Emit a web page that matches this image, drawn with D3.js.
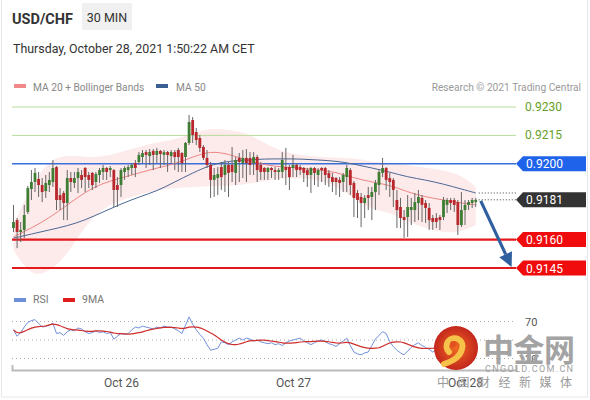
<!DOCTYPE html>
<html>
<head>
<meta charset="utf-8">
<script src="https://cdn.jsdelivr.net/npm/d3@7"></script>
<style>
body { margin: 0; background: #fff; }
svg { font-family: Roboto, "Liberation Sans", Arial, sans-serif; }
</style>
</head>
<body>
<svg id="chart" width="590" height="400"></svg>
<script>
// USD/CHF 30 min candles, first one opens Oct 25 09:00
var firstCandle = Date.UTC(2021, 9, 25, 9, 0);
var candleMinutes = 30;

var opens = [0.91661,0.91703,0.91640,0.91651,0.91746,0.91867,0.91904,0.91920,0.91888,0.91856,
0.91888,0.91904,0.91983,0.91835,0.91846,0.91793,0.91925,0.91899,0.91925,0.91941,
0.91978,0.91941,0.91952,0.91904,0.91941,0.91957,0.91978,0.91967,0.91967,0.91888,
0.91888,0.91957,0.91967,0.91978,0.92004,0.92010,0.92036,0.92062,0.92041,0.92068,
0.92047,0.92068,0.92047,0.92062,0.92041,0.92062,0.92073,0.92057,0.92036,0.92110,
0.92231,0.92168,0.92136,0.92089,0.92031,0.91994,0.91915,0.91925,0.91983,0.91941,
0.91994,0.91994,0.91952,0.92031,0.92004,0.92031,0.92031,0.92004,0.92036,0.91994,
0.91978,0.91957,0.91978,0.91967,0.91957,0.91957,0.91983,0.91983,0.91978,0.91994,
0.91983,0.91978,0.91967,0.91941,0.91978,0.91941,0.91978,0.91978,0.91952,0.91930,
0.91925,0.91915,0.91904,0.91930,0.91967,0.91899,0.91846,0.91825,0.91793,0.91835,
0.91825,0.91851,0.91888,0.91952,0.91978,0.91925,0.91915,0.91809,0.91772,0.91719,
0.91719,0.91756,0.91756,0.91793,0.91820,0.91793,0.91767,0.91714,0.91714,0.91719,
0.91719,0.91783,0.91809,0.91809,0.91798,0.91677,0.91756,0.91783,0.91793,0.91798];

var highs = [0.91783,0.91714,0.91693,0.91783,0.91883,0.91967,0.91978,0.91957,0.91925,0.91941,
0.91957,0.92020,0.91988,0.91872,0.91856,0.91967,0.91957,0.91957,0.91978,0.91967,
0.91983,0.91957,0.91957,0.91957,0.91978,0.91994,0.91983,0.91988,0.91973,0.91930,
0.91978,0.91988,0.91994,0.92004,0.92020,0.92062,0.92073,0.92073,0.92078,0.92078,
0.92084,0.92073,0.92073,0.92068,0.92073,0.92073,0.92084,0.92062,0.92115,0.92258,
0.92247,0.92189,0.92152,0.92099,0.92073,0.92010,0.91978,0.91983,0.92010,0.92020,
0.92010,0.92089,0.92036,0.92057,0.92073,0.92078,0.92062,0.92062,0.92047,0.92010,
0.91983,0.91983,0.91983,0.91983,0.91978,0.92062,0.92084,0.91994,0.92047,0.92004,
0.91994,0.91983,0.91978,0.91983,0.91983,0.91978,0.91983,0.91983,0.91967,0.91952,
0.91930,0.91930,0.91952,0.91994,0.91978,0.91909,0.91862,0.91846,0.91835,0.91878,
0.91878,0.91915,0.91967,0.92031,0.91983,0.91952,0.91925,0.91862,0.91820,0.91756,
0.91835,0.91820,0.91846,0.91862,0.91835,0.91809,0.91793,0.91730,0.91740,0.91730,
0.91825,0.91820,0.91820,0.91820,0.91809,0.91851,0.91809,0.91809,0.91820,0.91820];

var lows = [0.91640,0.91555,0.91587,0.91608,0.91735,0.91809,0.91851,0.91825,0.91798,0.91820,
0.91851,0.91878,0.91756,0.91756,0.91703,0.91703,0.91851,0.91872,0.91846,0.91872,
0.91851,0.91872,0.91862,0.91872,0.91899,0.91915,0.91915,0.91930,0.91772,0.91772,
0.91825,0.91915,0.91930,0.91941,0.91930,0.91994,0.92004,0.91978,0.91994,0.91967,
0.92004,0.91978,0.91994,0.91957,0.92004,0.91967,0.91957,0.91957,0.91957,0.92099,
0.92110,0.92099,0.92062,0.92020,0.91978,0.91820,0.91825,0.91835,0.91862,0.91851,
0.91825,0.91904,0.91888,0.91904,0.91925,0.91904,0.91941,0.91941,0.91904,0.91915,
0.91915,0.91915,0.91925,0.91915,0.91915,0.91925,0.91888,0.91862,0.91930,0.91930,
0.91941,0.91904,0.91878,0.91846,0.91888,0.91878,0.91904,0.91888,0.91878,0.91851,
0.91835,0.91825,0.91851,0.91851,0.91835,0.91719,0.91714,0.91666,0.91714,0.91756,
0.91703,0.91756,0.91835,0.91930,0.91862,0.91825,0.91772,0.91661,0.91661,0.91608,
0.91614,0.91677,0.91693,0.91703,0.91693,0.91688,0.91651,0.91651,0.91661,0.91651,
0.91703,0.91740,0.91756,0.91746,0.91624,0.91666,0.91677,0.91756,0.91767,0.91772];

var closes = [0.91693,0.91640,0.91651,0.91730,0.91872,0.91904,0.91952,0.91888,0.91851,0.91899,
0.91915,0.91978,0.91809,0.91809,0.91793,0.91925,0.91904,0.91925,0.91957,0.91915,
0.91930,0.91915,0.91888,0.91946,0.91967,0.91978,0.91957,0.91978,0.91862,0.91862,
0.91967,0.91978,0.91983,0.91994,0.91978,0.92047,0.92057,0.92047,0.92062,0.92047,
0.92068,0.92052,0.92062,0.92047,0.92062,0.92036,0.92036,0.92004,0.92110,0.92221,
0.92152,0.92126,0.92084,0.92031,0.91994,0.91915,0.91941,0.91946,0.91930,0.91994,
0.91952,0.91957,0.92020,0.92010,0.92031,0.92004,0.91994,0.92036,0.91967,0.91957,
0.91957,0.91978,0.91967,0.91957,0.91967,0.92020,0.91967,0.91930,0.91994,0.91967,
0.91967,0.91952,0.91941,0.91978,0.91952,0.91967,0.91967,0.91941,0.91925,0.91904,
0.91904,0.91899,0.91941,0.91978,0.91888,0.91820,0.91809,0.91793,0.91820,0.91820,
0.91851,0.91899,0.91957,0.91978,0.91915,0.91904,0.91862,0.91756,0.91714,0.91703,
0.91772,0.91772,0.91798,0.91825,0.91783,0.91767,0.91703,0.91693,0.91693,0.91703,
0.91809,0.91809,0.91793,0.91783,0.91677,0.91756,0.91783,0.91798,0.91809,0.91810];

// indicators read at every 5th candle
var indicatorIdx = [0,5,10,15,20,25,30,35,40,45,50,55,60,65,70,75,80,85,90,95,100,105,110,115,120,125,129];
var ma20 = [0.91614,0.91661,0.91714,0.91783,0.91851,0.91899,0.91925,0.91952,0.91978,0.91999,0.92036,0.92068,0.92052,0.92020,
0.91994,0.91983,0.91978,0.91967,0.91957,0.91925,0.91904,0.91888,0.91851,0.91825,0.91809,0.91793,0.91783];
var bandUpper = [0.91677,0.91888,0.92020,0.92047,0.92036,0.92036,0.92062,0.92089,0.92115,0.92126,0.92163,0.92189,0.92179,0.92163,
0.92110,0.92062,0.92047,0.92036,0.92031,0.92031,0.92010,0.92004,0.91994,0.91978,0.91967,0.91941,0.91878];
var bandLower = [0.91545,0.91402,0.91429,0.91519,0.91677,0.91767,0.91809,0.91835,0.91862,0.91872,0.91878,0.91883,0.91883,0.91893,
0.91909,0.91925,0.91925,0.91915,0.91883,0.91820,0.91756,0.91746,0.91693,0.91661,0.91635,0.91640,0.91677];
var ma50 = [0.91608,0.91629,0.91651,0.91672,0.91703,0.91746,0.91788,0.91825,0.91856,0.91904,0.91952,0.91994,0.92015,0.92020,
0.92026,0.92026,0.92026,0.92020,0.92015,0.91999,0.91978,0.91957,0.91930,0.91915,0.91893,0.91867,0.91846];

var rsi = [61,54,58,64,69,71,72,68,64,65,66,68,57,58,55,59,61,60,63,62,
59,57,58,60,58,59,57,58,51,54,57,56,57,61,64,63,65,64,63,62,
64,63,65,64,64,62,60,57,66,75,67,61,56,52,45,39,40,41,48,47,
45,48,50,52,50,52,51,49,50,48,47,46,47,45,46,44,47,49,50,51,
52,49,47,45,47,49,50,48,46,45,43,46,49,52,44,37,35,34,36,37,
44,51,55,59,57,48,43,39,36,34,38,42,45,47,44,42,40,37,39,42,
40,44,41,38,43,45,42,46,44,45];
var rsiLevels = [70, 50, 30];

var targets = [0.9230, 0.9215];
var pivot = 0.9200;
var supports = [0.9160, 0.9145];
var arrowTarget = 0.9145;
var arrowTime = Date.UTC(2021, 9, 28, 6, 30);
var dayTicks = [Date.UTC(2021, 9, 26), Date.UTC(2021, 9, 27), Date.UTC(2021, 9, 28)];

var svg = d3.select("#chart");
var right = 516;

var times = closes.map(function(d, i) { return firstCandle + i * candleMinutes * 60000; });
var x0 = d3.scaleUtc().domain([dayTicks[0], dayTicks[1]]).range([121, 293]);
var x = d3.scaleUtc().domain([x0.invert(12), x0.invert(right)]).range([12, right]);
var y = d3.scaleLinear().domain([0.9145, 0.9230]).range([268, 107]);
var yR = d3.scaleLinear().domain([30, 70]).range([358.5, 321.5]);

// frame
svg.append("rect").attr("x", 1.5).attr("y", -2).attr("width", 586).attr("height", 399)
   .attr("fill", "none").attr("stroke", "#e6e6e6");

// header
svg.append("text").attr("x", 12).attr("y", 24).attr("font-size", "14.5px").attr("font-weight", "bold")
   .attr("fill", "#333").text("USD/CHF");
svg.append("rect").attr("x", 82).attr("y", 3).attr("width", 50).attr("height", 27).attr("fill", "#f0f0f0");
svg.append("text").attr("x", 107).attr("y", 22).attr("text-anchor", "middle").attr("font-size", "12.5px")
   .attr("fill", "#333").text("30 MIN");
svg.append("text").attr("x", 13).attr("y", 53).attr("font-size", "12.4px").attr("fill", "#333")
   .text("Thursday, October 28, 2021 1:50:22 AM CET");

// legend
svg.append("rect").attr("x", 14).attr("y", 84).attr("width", 12).attr("height", 4).attr("fill", "#f08a8a");
svg.append("text").attr("x", 33).attr("y", 91).attr("font-size", "10.2px").attr("fill", "#888").text("MA 20 + Bollinger Bands");
svg.append("rect").attr("x", 156).attr("y", 84).attr("width", 12).attr("height", 4).attr("fill", "#3b5f93");
svg.append("text").attr("x", 176).attr("y", 91).attr("font-size", "10.2px").attr("fill", "#888").text("MA 50");
svg.append("text").attr("x", 581).attr("y", 91).attr("text-anchor", "end").attr("font-size", "10.2px")
   .attr("fill", "#9a9a9a").text("Research \u00a9 2021 Trading Central");

// bollinger band
var band = d3.area()
    .x(function(d) { return x(times[d]); })
    .y0(function(d, i) { return y(bandLower[i]); })
    .y1(function(d, i) { return y(bandUpper[i]); })
    .curve(d3.curveBasis);
svg.append("path").datum(indicatorIdx).attr("d", band).attr("fill", "#fbd9d9").attr("opacity", 0.55);

// level lines
targets.forEach(function(v) {
    svg.append("line").attr("x1", 12).attr("x2", right).attr("y1", y(v)).attr("y2", y(v))
       .attr("stroke", "#b9dc9c").attr("stroke-width", 1);
    svg.append("text").attr("x", 525).attr("y", y(v) + 4).attr("font-size", "12px")
       .attr("fill", "#66a02a").text(v.toFixed(4));
});
svg.append("line").attr("x1", 12).attr("x2", right).attr("y1", y(pivot)).attr("y2", y(pivot))
   .attr("stroke", "#3b6fd9").attr("stroke-width", 1.5);
supports.forEach(function(v) {
    svg.append("line").attr("x1", 12).attr("x2", right).attr("y1", y(v)).attr("y2", y(v))
       .attr("stroke", "#e3191c").attr("stroke-width", 2.2);
});

// moving averages
function maLine(vals) {
    return d3.line()
        .x(function(d) { return x(times[d]); })
        .y(function(d, i) { return y(vals[i]); })
        .curve(d3.curveBasis)(indicatorIdx);
}
svg.append("path").attr("d", maLine(ma20)).attr("fill", "none").attr("stroke", "#ec8585").attr("stroke-width", 1);
svg.append("path").attr("d", maLine(ma50)).attr("fill", "none").attr("stroke", "#4a6894").attr("stroke-width", 1);

// candles
var candles = svg.append("g").selectAll("g").data(closes).enter().append("g");
candles.append("line")
    .attr("x1", function(d, i) { return x(times[i]); })
    .attr("x2", function(d, i) { return x(times[i]); })
    .attr("y1", function(d, i) { return y(highs[i]); })
    .attr("y2", function(d, i) { return y(lows[i]); })
    .attr("stroke", "#666").attr("stroke-width", 1);
candles.append("rect")
    .attr("x", function(d, i) { return x(times[i]) - 1.4; })
    .attr("width", 2.8)
    .attr("y", function(d, i) { return Math.min(y(opens[i]), y(d)); })
    .attr("height", function(d, i) { return Math.max(1, Math.abs(y(opens[i]) - y(d))); })
    .attr("fill", function(d, i) { return d >= opens[i] ? "#3e7d32" : "#b8272c"; });

// last price guides
var last = closes.length - 1;
var lastX = x(times[last]);
[closes[last], ma50[ma50.length - 1]].forEach(function(v) {
    svg.append("line").attr("x1", lastX + 3).attr("x2", right).attr("y1", y(v)).attr("y2", y(v))
       .attr("stroke", "#444").attr("stroke-dasharray", "1,2");
});

// price tags
function tag(v, fill, label) {
    var yy = y(v);
    svg.append("path")
       .attr("d", "M" + right + "," + yy + "L" + (right + 7) + "," + (yy - 7.5) + "H586V" + (yy + 7.5) + "H" + (right + 7) + "Z")
       .attr("fill", fill);
    svg.append("text").attr("x", 526).attr("y", yy + 4.5).attr("font-size", "12px").attr("fill", "#fff").text(label);
}
tag(pivot, "#1f63ea", pivot.toFixed(4));
tag(closes[last], "#333", closes[last].toFixed(4));
supports.forEach(function(v) { tag(v, "#f00c0c", v.toFixed(4)); });

// forecast arrow
var ax1 = lastX + 5, ay1 = y(closes[last]) + 1;
var ax2 = x(arrowTime), ay2 = y(arrowTarget) - 1;
var ang = Math.atan2(ay2 - ay1, ax2 - ax1);
var headLen = 14, headW = 7;
var bx = ax2 - headLen * Math.cos(ang), by = ay2 - headLen * Math.sin(ang);
svg.append("line").attr("x1", ax1).attr("y1", ay1).attr("x2", bx).attr("y2", by)
   .attr("stroke", "#2f5f9f").attr("stroke-width", 3.2);
svg.append("path")
   .attr("d", "M" + ax2 + "," + ay2 +
        "L" + (bx + headW * Math.sin(ang)) + "," + (by - headW * Math.cos(ang)) +
        "L" + (bx - headW * Math.sin(ang)) + "," + (by + headW * Math.cos(ang)) + "Z")
   .attr("fill", "#2f5f9f");

// RSI panel
svg.append("rect").attr("x", 14).attr("y", 298).attr("width", 12).attr("height", 4).attr("fill", "#6c8fd9");
svg.append("text").attr("x", 33).attr("y", 303).attr("font-size", "10.5px").attr("fill", "#777").text("RSI");
svg.append("rect").attr("x", 63).attr("y", 298).attr("width", 12).attr("height", 4).attr("fill", "#e01d1d");
svg.append("text").attr("x", 82).attr("y", 303).attr("font-size", "10.5px").attr("fill", "#777").text("9MA");

rsiLevels.forEach(function(v) {
    svg.append("line").attr("x1", 12).attr("x2", right).attr("y1", yR(v)).attr("y2", yR(v))
       .attr("stroke", "#aaa").attr("stroke-dasharray", "1,3");
});
svg.append("text").attr("x", 525).attr("y", yR(70) + 4).attr("font-size", "11px").attr("fill", "#555").text("70");
svg.append("text").attr("x", 525).attr("y", yR(30) + 4).attr("font-size", "11px").attr("fill", "#555").text("30");

var rsiMa = rsi.map(function(d, i) { return d3.mean(rsi.slice(Math.max(0, i - 8), i + 1)); });
var rsiLine = d3.line().x(function(d, i) { return x(times[i]); }).y(function(d) { return yR(d); });
svg.append("path").attr("d", rsiLine(rsi)).attr("fill", "none").attr("stroke", "#7191dc").attr("stroke-width", 1);
svg.append("path").attr("d", rsiLine.curve(d3.curveBasis)(rsiMa)).attr("fill", "none")
   .attr("stroke", "#cf2d2a").attr("stroke-width", 1.2);

// time axis
var axis = svg.append("g").attr("transform", "translate(0,370)")
    .call(d3.axisBottom(x).tickValues(dayTicks).tickFormat(d3.utcFormat("%b %d"))
          .tickSizeInner(0).tickSizeOuter(-5).tickPadding(8));
axis.select(".domain").attr("stroke", "#bbb").attr("stroke-width", 2);
axis.selectAll("text").attr("font-size", "12px").attr("fill", "#555").attr("font-family", "Roboto, Arial, sans-serif");

// watermark
var wm = svg.append("g");
var grad = svg.append("defs").append("radialGradient").attr("id", "logoGrad");
grad.append("stop").attr("offset", "0%").attr("stop-color", "#ef6a22");
grad.append("stop").attr("offset", "100%").attr("stop-color", "#c3261c");
wm.append("circle").attr("cx", 456).attr("cy", 348).attr("r", 22).attr("fill", "url(#logoGrad)");
wm.append("path").attr("d", "M449,352 a8,8 0 1,1 13,-3 q-2,10 -18,15")
  .attr("fill", "none").attr("stroke", "#f6c24a").attr("stroke-width", 6).attr("stroke-linecap", "round");
wm.append("circle").attr("cx", 453).attr("cy", 344).attr("r", 3).attr("fill", "#e2501f");
wm.append("text").attr("x", 483).attr("y", 361).attr("font-size", "31px").attr("font-weight", "bold")
  .attr("font-family", "'Noto Sans CJK SC'").attr("fill", "#a3a3a3").attr("textLength", 92).text("中金网");
wm.append("text").attr("x", 485).attr("y", 372).attr("font-size", "9px").attr("fill", "#a0a0a0")
  .attr("textLength", 88).attr("lengthAdjust", "spacing").text("CNGOLD.COM.CN");
wm.append("text").attr("x", 437).attr("y", 387).attr("font-size", "12px").attr("fill", "#9a9a9a")
  .attr("font-family", "'Noto Sans CJK SC'").attr("textLength", 135).attr("lengthAdjust", "spacing").text("中国财经新媒体");
</script>
</body>
</html>
